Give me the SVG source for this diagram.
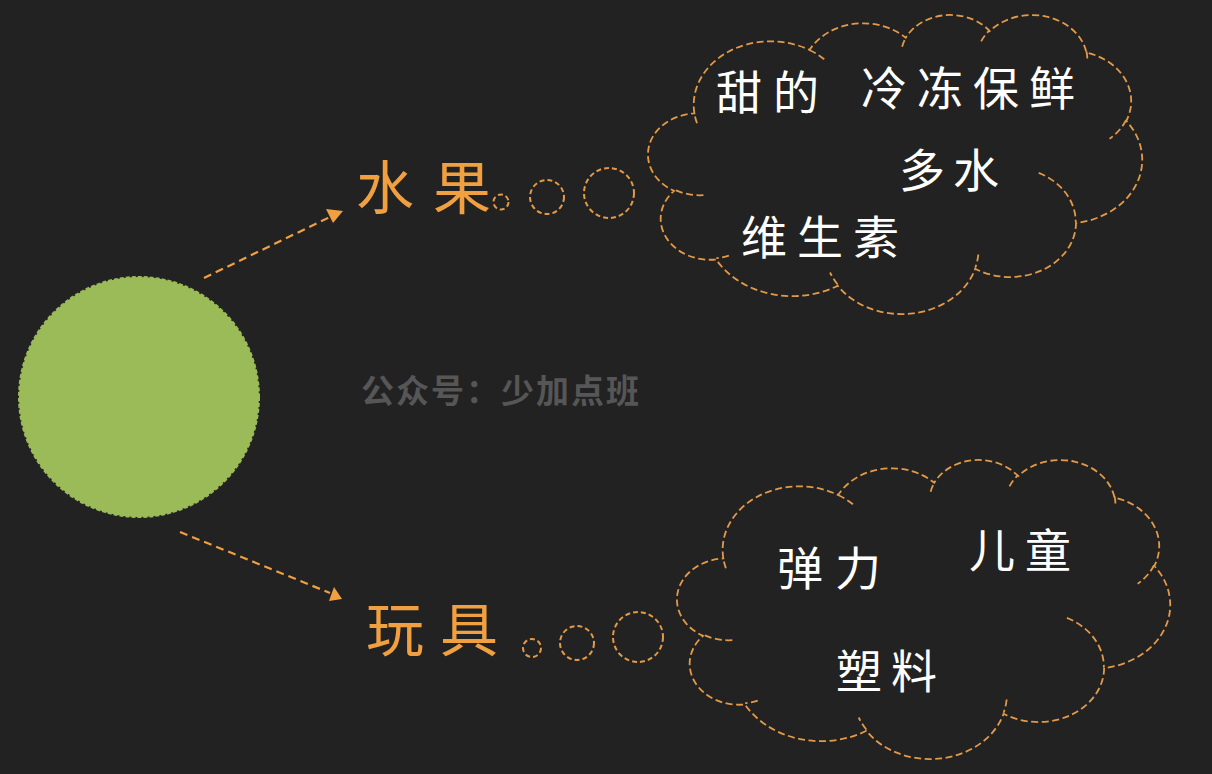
<svg xmlns="http://www.w3.org/2000/svg" width="1212" height="774" viewBox="0 0 1212 774">
<style>
.bg{fill:#222222}
.cloud{fill:none;stroke:#E39A48;stroke-width:1.8;stroke-dasharray:7 3.5;vector-effect:non-scaling-stroke}
.bub{fill:none;stroke:#E39A48;stroke-width:2;stroke-dasharray:5 3}
.conn{fill:none;stroke:#F0A040;stroke-width:2.2;stroke-dasharray:8 5}
.head{fill:#F0A040}
.lbl{font-family:"Noto Sans CJK SC","Noto Sans",sans-serif;fill:#F0A040;font-size:58px}
.wt{font-family:"Noto Sans CJK SC","Noto Sans",sans-serif;fill:#FFFFFF;font-size:46px}
.wm{font-family:"Noto Sans CJK SC","Noto Sans",sans-serif;fill:#565656;font-size:33px;font-weight:bold}
</style>
<defs>
<path id="cloudOuter" d="M3900 14370 A6753 9190 0 0 1 14005 5202 A5333 7267 0 0 1 22457 3432 A4365 5945 0 0 1 29833 2479 A4857 6595 0 0 1 38318 5574 A5333 7273 0 0 1 41819 15458 A6775 9220 0 0 1 37405 30201 A5785 7867 0 0 1 28556 36811 A6752 9215 0 0 1 16481 39263 A7720 10543 0 0 1 5805 35469 A4360 5918 0 0 1 2114 25547 A4345 5945 0 0 1 3900 14370 Z"/>
</defs>
<rect class="bg" x="0" y="0" width="1212" height="774"/>

<g id="center-node">
<ellipse cx="139" cy="397" rx="120" ry="120" fill="#9BBB59" stroke="#9BBB59" stroke-width="2" stroke-dasharray="4 2"/>
</g>

<g id="connectors">
<line class="conn" x1="204" y1="278" x2="330" y2="217"/>
<path class="head" d="M326,209 L343,211 L333,223 Z"/>
<line class="conn" x1="180" y1="532" x2="330" y2="593"/>
<path class="head" d="M329,601 L342,599 L334,587 Z"/>
</g>

<g id="fruit">
<text class="lbl" x="356" y="209" letter-spacing="19">水果</text>
<circle class="bub" cx="501" cy="202" r="7.5"/>
<circle class="bub" cx="547" cy="197" r="17"/>
<circle class="bub" cx="609" cy="193" r="25"/>
</g>

<g id="toy">
<text class="lbl" x="366" y="651" letter-spacing="16">玩具</text>
<circle class="bub" cx="532" cy="648" r="9"/>
<circle class="bub" cx="577" cy="643" r="17"/>
<circle class="bub" cx="638" cy="637" r="25"/>
</g>

<g id="cloud-fruit">
<g transform="translate(650,14) scale(0.011389,0.0069213)">
<path class="cloud" d="M3900 14370 A6753 9190 0 0 1 14005 5202 A5333 7267 0 0 1 22457 3432 A4365 5945 0 0 1 29833 2479 A4857 6595 0 0 1 38318 5574 A5333 7273 0 0 1 41819 15458 A6775 9220 0 0 1 37405 30201 A5785 7867 0 0 1 28556 36811 A6752 9215 0 0 1 16481 39263 A7720 10543 0 0 1 5805 35469 A4360 5918 0 0 1 2114 25547 A4345 5945 0 0 1 3900 14370 Z"/>
<path class="cloud" d="M4693 26177 A4345 5945 0 0 1 2160 25380 M6928 34899 A4360 5918 0 0 1 5820 35281 M16478 39090 A6752 9215 0 0 1 15810 37349 M28827 34751 A6752 9215 0 0 1 28560 36660 M34129 22954 A5785 7867 0 0 1 37381 30090 M41798 15354 A5333 7273 0 0 1 40350 18030 M38324 5426 A4857 6595 0 0 1 38400 6690 M29078 3952 A4857 6595 0 0 1 29820 2340 M22141 4720 A4365 5945 0 0 1 22500 3331 M14000 5192 A6753 9190 0 0 1 15300 6541 M4127 15789 A6753 9190 0 0 1 3900 14370"/>
</g>
<text class="wt" x="716" y="109" letter-spacing="11">甜的</text>
<text class="wt" x="861" y="105" letter-spacing="10">冷冻保鲜</text>
<text class="wt" x="899" y="187" letter-spacing="8">多水</text>
<text class="wt" x="741" y="254" letter-spacing="10">维生素</text>
</g>

<g id="cloud-toy">
<g transform="translate(679,459) scale(0.011366,0.0069213)">
<path class="cloud" d="M3900 14370 A6753 9190 0 0 1 14005 5202 A5333 7267 0 0 1 22457 3432 A4365 5945 0 0 1 29833 2479 A4857 6595 0 0 1 38318 5574 A5333 7273 0 0 1 41819 15458 A6775 9220 0 0 1 37405 30201 A5785 7867 0 0 1 28556 36811 A6752 9215 0 0 1 16481 39263 A7720 10543 0 0 1 5805 35469 A4360 5918 0 0 1 2114 25547 A4345 5945 0 0 1 3900 14370 Z"/>
<path class="cloud" d="M4693 26177 A4345 5945 0 0 1 2160 25380 M6928 34899 A4360 5918 0 0 1 5820 35281 M16478 39090 A6752 9215 0 0 1 15810 37349 M28827 34751 A6752 9215 0 0 1 28560 36660 M34129 22954 A5785 7867 0 0 1 37381 30090 M41798 15354 A5333 7273 0 0 1 40350 18030 M38324 5426 A4857 6595 0 0 1 38400 6690 M29078 3952 A4857 6595 0 0 1 29820 2340 M22141 4720 A4365 5945 0 0 1 22500 3331 M14000 5192 A6753 9190 0 0 1 15300 6541 M4127 15789 A6753 9190 0 0 1 3900 14370"/>
</g>
<text class="wt" x="777" y="585" letter-spacing="12">弹力</text>
<text class="wt" x="969" y="567" letter-spacing="10">儿童</text>
<text class="wt" x="836" y="688" letter-spacing="9">塑料</text>
</g>

<g id="watermark">
<text class="wm" x="361" y="403" letter-spacing="2">公众号：少加点班</text>
</g>
</svg>
